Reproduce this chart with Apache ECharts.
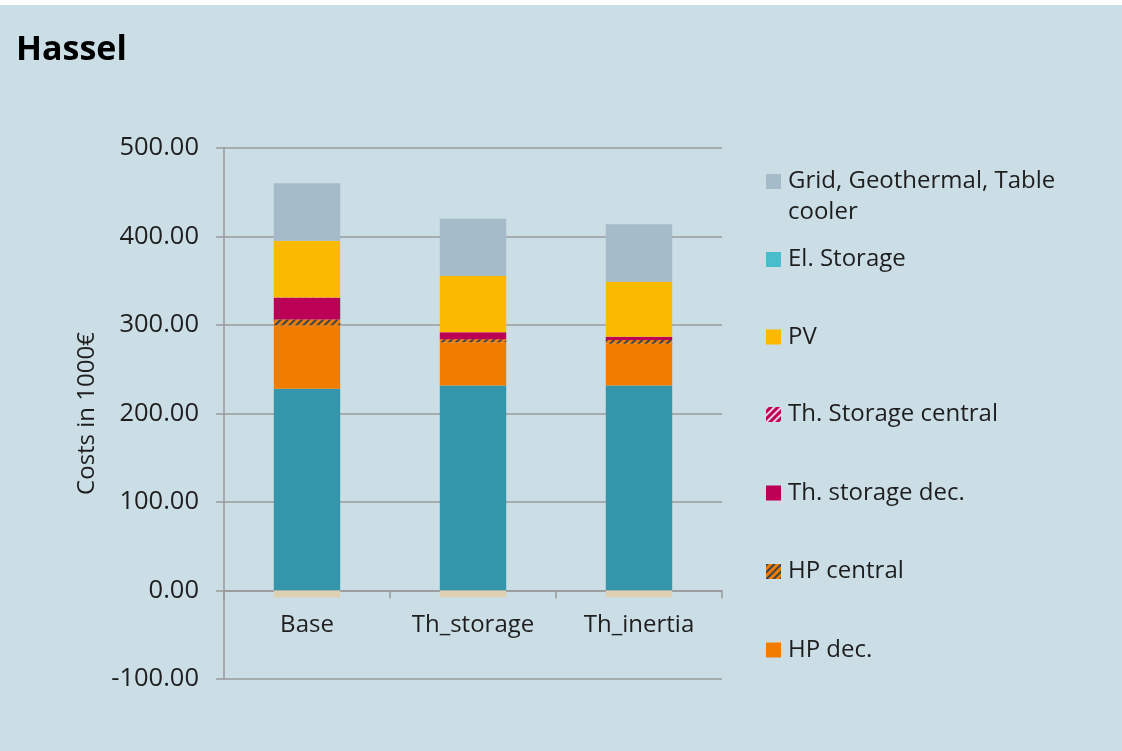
<!DOCTYPE html>
<html>
<head>
<meta charset="utf-8">
<script src="https://cdn.jsdelivr.net/npm/echarts@6/dist/echarts.min.js"></script>
<style>
html,body{margin:0;padding:0;background:#ffffff;}
#chart{position:absolute;left:0;top:5px;width:1122px;height:746px;background:#cbdee6;}
</style>
</head>
<body>
<div id="chart"></div>
<script>
// ---- data ----
var categories = ['Base', 'Th_storage', 'Th_inertia'];
var elStorage = [228.0, 231.5, 231.5];
var hpDec = [71.8, 49.0, 47.4];
var hpCentral = [6.4, 3.4, 4.2];
var thStorageDec = [24.4, 7.9, 3.7];
var thStorageCentral = [0.6, 0.0, 0.0];
var pv = [63.9, 63.5, 62.0];
var gridGeo = [65.0, 64.7, 65.0];
var otherNegative = [-7.9, -7.5, -7.5];
var yTicks = [-100, 0, 100, 200, 300, 400, 500];

var FONT = '"Open Sans", "DejaVu Sans", sans-serif';
var TXT = '#1e1e1e';

var chart = echarts.init(document.getElementById('chart'), null, {renderer: 'canvas'});

function bar(name, data, color, extra) {
  var s = {
    name: name, type: 'bar', stack: 'total', data: data, barWidth: '40%',
    itemStyle: {color: color}, emphasis: {disabled: true}
  };
  if (extra) { for (var k in extra) s.itemStyle[k] = extra[k]; }
  return s;
}

var hpCentralDecal = {symbol: 'rect', symbolSize: 1, color: '#3b4550', dashArrayX: [1, 0], dashArrayY: [2, 3], rotation: -Math.PI / 4};
var thCentralDecal = {symbol: 'rect', symbolSize: 1, color: 'rgba(240,230,240,0.9)', dashArrayX: [1, 0], dashArrayY: [2, 3], rotation: -Math.PI / 4};

// centre of each legend row, in chart (div) coordinates
function leg(name, centerY, extra) {
  var l = {
    data: [name], orient: 'vertical', left: 766, top: centerY - 14, padding: 0,
    icon: 'rect', itemWidth: 15, itemHeight: 15, itemGap: 0, selectedMode: false,
    textStyle: {fontFamily: FONT, fontSize: 24, color: TXT, lineHeight: 28, padding: [0, 0, 0, 2]}
  };
  if (extra) { for (var k in extra) l[k] = extra[k]; }
  return l;
}

var option = {
  backgroundColor: '#cbdee6',
  animation: false,
  title: {
    text: 'Hassel', left: 16, top: 28, padding: 0,
    textStyle: {fontFamily: FONT, fontSize: 34, fontWeight: 'bold', color: '#000'}
  },
  legend: [
    leg('Grid, Geothermal, Table', 176.5, {
      formatter: function () { return '\nGrid, Geothermal, Table\ncooler'; },
      top: 176.5 - 46.5,
      textStyle: {fontFamily: FONT, fontSize: 24, color: TXT, lineHeight: 31, padding: [0, 0, 0, 2]}
    }),
    leg('El. Storage', 254.5, {data: [{name: 'El. Storage', itemStyle: {color: '#49bdcc'}}]}),
    leg('PV', 332),
    leg('Th. Storage central', 409.5),
    leg('Th. storage dec.', 488),
    leg('HP central', 566.5),
    leg('HP dec.', 645)
  ],
  grid: {left: 224, right: 400, top: 143, bottom: 72},
  xAxis: {
    type: 'category', data: categories,
    axisLine: {onZero: true, lineStyle: {color: '#999999', width: 1.5}},
    axisTick: {show: true, length: 8, alignWithLabel: false, lineStyle: {color: '#999999', width: 1.5}},
    axisLabel: {fontFamily: FONT, fontSize: 24, color: TXT, margin: -66}
  },
  yAxis: {
    type: 'value', min: -100, max: 500, interval: 100,
    name: 'Costs in 1000€', nameLocation: 'middle', nameGap: 125,
    nameTextStyle: {fontFamily: FONT, fontSize: 24, color: TXT},
    axisLine: {show: true, lineStyle: {color: '#999999', width: 1.5}},
    axisTick: {show: true, length: 8, lineStyle: {color: '#999999', width: 1.5}},
    axisLabel: {
      fontFamily: FONT, fontSize: 25.5, color: TXT, margin: 25,
      formatter: function (v) { return yTicks.indexOf(v) >= 0 ? v.toFixed(2) : ''; }
    },
    splitLine: {show: true, lineStyle: {color: '#9a9a9a', width: 1.5}}
  },
  series: [
    bar('El. Storage', elStorage, '#3396ab'),
    bar('HP dec.', hpDec, '#f17c00'),
    bar('HP central', hpCentral, '#f17c00', {decal: hpCentralDecal}),
    bar('Th. storage dec.', thStorageDec, '#bb0055'),
    bar('Th. Storage central', thStorageCentral, '#bb0055', {decal: thCentralDecal}),
    bar('PV', pv, '#fbb900'),
    bar('Grid, Geothermal, Table', gridGeo, '#a5bbc9'),
    bar('Other', otherNegative, '#ddd0b3')
  ]
};
chart.setOption(option);
</script>
</body>
</html>
